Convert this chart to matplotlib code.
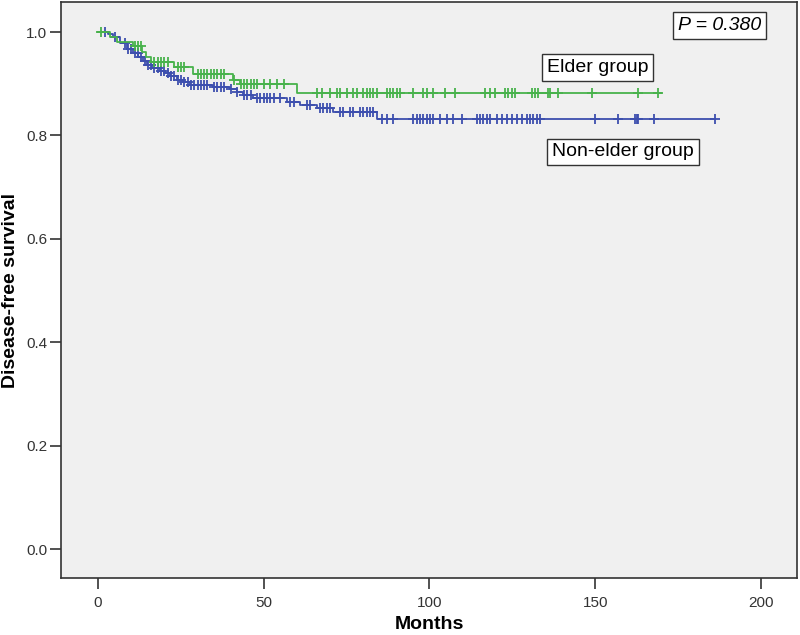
import numpy as np
import matplotlib
matplotlib.use("Agg")
import matplotlib.pyplot as plt

# ---- data ----
elder_times = [0, 3.6, 5.7, 10.6, 13.3, 14.5, 16.0, 23.0, 28.5, 40.7, 42.8, 60.0]
elder_surv = [1.0, 0.991, 0.981, 0.972, 0.962, 0.952, 0.942, 0.932, 0.918, 0.907, 0.900, 0.882]
elder_end = 170
elder_censor = [0.8, 11, 12, 13, 17, 18, 19, 20, 21, 24, 25, 26, 30, 31, 32, 33, 34, 35, 36,
                37, 38, 41, 43, 44, 45, 46, 47, 48, 50, 52, 54, 56,
                66.1, 67.6, 70.0, 72.1, 73.0, 75.1, 76.9, 78.1, 79.9, 81.1, 82.1, 83.0, 84.2,
                87.2, 88.1, 89.0, 90.2, 91.1, 95.0, 98.0, 99.2, 101.1, 104.7, 107.7,
                116.7, 118.2, 119.8, 122.8, 123.7, 124.9, 125.8, 130.9, 131.8, 132.7,
                135.7, 136.3, 138.8, 149.0, 162.9, 168.9]

nonelder_times = [0, 3.0, 4.5, 6.6, 8.7, 10.6, 12.1, 13.6, 14.8, 16.3, 18.7, 20.2, 21.7, 23.8,
                  25.6, 27.8, 34.7, 39.8, 41.9, 43.7, 46.8, 57.0, 60.9, 66.1, 70.9, 84.2]
nonelder_surv = [1.0, 0.996, 0.990, 0.978, 0.967, 0.960, 0.952, 0.943, 0.936, 0.930, 0.925,
                 0.920, 0.914, 0.907, 0.903, 0.897, 0.894, 0.890, 0.884, 0.878, 0.872, 0.865,
                 0.859, 0.853, 0.846, 0.832]
nonelder_end = 186
nonelder_censor = [2, 5, 8, 9, 10, 11, 12, 13, 14, 15, 16, 17, 18, 19, 20, 21, 22, 23, 24, 25,
                   26, 27, 28, 29, 30, 31, 32, 33, 35, 36, 37, 38, 40, 42, 44, 45, 46, 48, 49,
                   50, 51, 52, 53, 55, 58, 59, 63, 64, 67, 68, 69, 70, 73, 74, 76, 77, 79, 80,
                   81, 82, 83, 85.7, 87.2, 89.0, 95.0, 96.2, 97.1, 98.0, 99.2, 100.2, 101.1,
                   103.2, 105.3, 107.1, 109.8, 114.3, 115.2, 116.1, 117.3, 118.2, 120.4, 121.9,
                   123.4, 124.9, 126.4, 127.9, 129.4, 130.3, 131.2, 132.4, 133.3, 149.9, 156.9,
                   162.0, 162.6, 162.9, 167.7, 186.1]

xticks = [0, 50, 100, 150, 200]
yticks = [0.0, 0.2, 0.4, 0.6, 0.8, 1.0]

green = '#48b24c'
blue = '#3d4fae'

fig = plt.figure(figsize=(8, 6.35), dpi=100)
ax = fig.add_axes([0.07625, 0.0898, 0.92, 0.907])
ax.set_facecolor('#f0f0f0')


def draw(times, surv, end, censor, color):
    t = list(times) + [end]
    s = list(surv) + [surv[-1]]
    ax.step(t, s, where='post', color=color, lw=1.3)
    ct = np.array(censor)
    idx = np.searchsorted(np.array(times), ct, side='right') - 1
    cy = np.array(surv)[idx]
    ax.plot(ct, cy, linestyle='none', marker='+', color=color, ms=7, mew=1.3)


draw(nonelder_times, nonelder_surv, nonelder_end, nonelder_censor, blue)
draw(elder_times, elder_surv, elder_end, elder_censor, green)

ax.set_xlim(-11.2, 210.9)
ax.set_ylim(-0.056, 1.058)
ax.set_xticks(xticks)
ax.set_yticks(yticks)
ax.set_yticklabels([f"{v:.1f}" for v in yticks])

fam = ['Liberation Sans', 'DejaVu Sans']
for lab in ax.get_xticklabels() + ax.get_yticklabels():
    lab.set_family(fam)
    lab.set_fontsize(11)
    lab.set_color('#333333')
ax.tick_params(axis='both', direction='out', length=8, width=1.2, color='#333333', pad=2)
ax.tick_params(axis='x', pad=5)
for sp in ax.spines.values():
    sp.set_color('#333333')
    sp.set_linewidth(1.2)

ax.set_xlabel('Months', family=fam, fontsize=14, fontweight='bold', labelpad=4)
ax.set_ylabel('Disease-free survival', family=fam, fontsize=14, fontweight='bold', labelpad=5)

box = dict(boxstyle='square,pad=0.25', facecolor='white', edgecolor='#333333', lw=1.0)
ax.text(187.6, 1.0126, 'P = 0.380', family=fam, style='italic',
        fontsize=14, ha='center', va='center', bbox=box)
ax.text(150.8, 0.932, 'Elder group', family=fam,
        fontsize=14, ha='center', va='center', bbox=box)
ax.text(158.4, 0.768, 'Non-elder group', family=fam,
        fontsize=14, ha='center', va='center', bbox=box)

fig.savefig('out.png', dpi=100, facecolor='white')
